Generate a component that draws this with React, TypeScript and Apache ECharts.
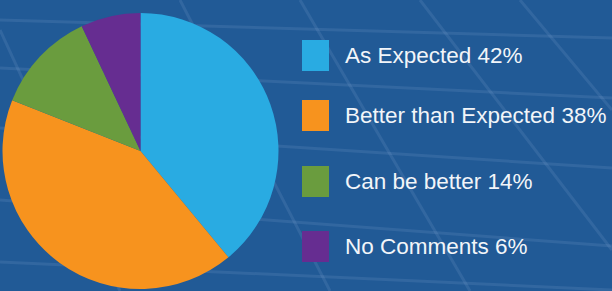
import React, { useEffect, useRef } from "react";
import * as echarts from "echarts";

const categories = ["As Expected", "Better than Expected", "Can be better", "No Comments"];
const labelPercents = ["42%", "38%", "14%", "6%"];
// slice shares as drawn in the picture
const sliceValues = [39, 42, 12, 7];
const colors = ["#29abe2", "#f7931e", "#6a9c3e", "#662d91"];
const legendTops = [40, 100, 166, 231];

// faint decorative background grid lines [x1, y1, x2, y2]
const bgLines: number[][] = [
  [0, 20, 612, 38],
  [0, 68, 612, 98],
  [0, 128, 612, 168],
  [0, 200, 612, 246],
  [0, 262, 612, 290],
  [300, 0, 470, 291],
  [420, 0, 612, 250],
  [520, 0, 612, 110],
  [180, 0, 330, 291],
  [0, 30, 120, 291],
];

export default function App() {
  const ref = useRef<HTMLDivElement>(null);
  useEffect(() => {
    if (!ref.current) return;
    const chart = echarts.init(ref.current, null, { renderer: "svg" });
    const data = categories.map((c, i) => ({
      name: c,
      value: sliceValues[i],
      itemStyle: { color: colors[i] },
    }));
    const labelMap: Record<string, string> = {};
    categories.forEach((c, i) => (labelMap[c] = `${c} ${labelPercents[i]}`));
    chart.setOption({
      animation: false,
      backgroundColor: "#215a96",
      graphic: bgLines.map((l) => ({
        type: "line",
        silent: true,
        z: -10,
        shape: { x1: l[0], y1: l[1], x2: l[2], y2: l[3] },
        style: { stroke: "rgba(170,200,235,0.12)", lineWidth: 3 },
      })),
      legend: categories.map((c, i) => ({
        data: [c],
        left: 302,
        top: legendTops[i],
        padding: 0,
        orient: "vertical",
        icon: "rect",
        itemWidth: 27,
        itemHeight: 31,
        selectedMode: false,
        formatter: (n: string) => labelMap[n],
        textStyle: {
          color: "#f2f5f9",
          fontSize: 22.5,
          fontFamily: "Liberation Sans, Arial, sans-serif",
          padding: [0, 0, 0, 11],
        },
      })),
      series: [
        {
          type: "pie",
          center: [140.5, 151],
          radius: 138,
          startAngle: 90,
          clockwise: true,
          silent: true,
          label: { show: false },
          labelLine: { show: false },
          itemStyle: { borderWidth: 0 },
          data,
        },
      ],
    });
    return () => chart.dispose();
  }, []);
  return (
    <div
      ref={ref}
      style={{ position: "fixed", left: 0, top: 0, width: 612, height: 291 }}
    />
  );
}
